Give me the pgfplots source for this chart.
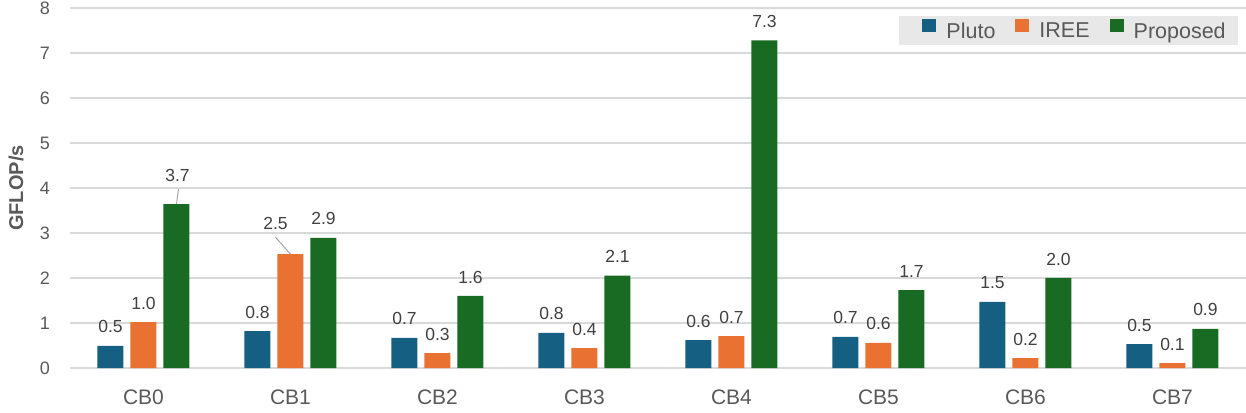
\documentclass[border=0pt]{standalone}
\usepackage{fontspec}
\setmainfont{Liberation Sans}
\usepackage{pgfplots}
\pgfplotsset{compat=1.18}

\definecolor{pluto}{HTML}{156082}
\definecolor{iree}{HTML}{E97132}
\definecolor{proposed}{HTML}{196B24}
\definecolor{gridgray}{HTML}{D9D9D9}
\definecolor{textgray}{HTML}{595959}
\definecolor{lblgray}{HTML}{404040}
\definecolor{leggray}{HTML}{E8E8E8}

\pgfplotsset{
  sqlegend/.style={legend image code/.code={\path (0pt,0pt);
    \fill[##1] (13pt,-1pt) rectangle (27pt,12pt);}},
}

\begin{document}
\begin{tikzpicture}
\path[use as bounding box] (-70pt,-44pt) rectangle (1176pt,368pt);
\begin{axis}[
  scale only axis,
  width=1176pt, height=360pt,
  ybar=7pt, bar width=26pt,
  xmin=-0.5, xmax=7.5,
  ymin=0, ymax=8,
  xtick={0,1,2,3,4,5,6,7},
  xticklabels={CB0,CB1,CB2,CB3,CB4,CB5,CB6,CB7},
  ytick={0,1,2,3,4,5,6,7,8},
  ymajorgrids,
  grid style={line width=1.3pt, gridgray},
  axis line style={draw=none},
  major tick length=0pt,
  /pgf/number format/assume math mode=true,
  yticklabel style={anchor=east, inner sep=0pt, xshift=-20pt, text=textgray,
    font=\fontsize{18}{22}\selectfont},
  xticklabel style={anchor=center, inner sep=0pt, yshift=-29pt, text=textgray,
    font=\fontsize{21}{25}\selectfont},
  every axis y label/.style={at={(axis description cs:0,0.5)}, rotate=90,
    anchor=center, yshift=54pt, text=textgray,
    font=\fontsize{20}{24}\selectfont\bfseries},
  ylabel={GFLOP/s},
  point meta=explicit symbolic,
  nodes near coords,
  every node near coord/.append style={anchor=center, yshift=19pt, inner sep=0pt,
    text=lblgray, font=\fontsize{17.5}{21}\selectfont},
  legend columns=3,
  legend style={at={(0.9932,0.9778)}, anchor=north east, fill=leggray, draw=none,
    font=\fontsize{21.5}{25}\selectfont, text=textgray,
    inner xsep=10pt, inner ysep=3pt,
    /tikz/every odd column/.append style={column sep=8pt},
    /tikz/every even column/.append style={column sep=5pt}},
]
\addplot[fill=pluto, draw=none, sqlegend] coordinates {
  (0,0.49) [0.5] (1,0.82) [0.8] (2,0.67) [0.7] (3,0.78) [0.8]
  (4,0.62) [0.6] (5,0.69) [0.7] (6,1.47) [1.5] (7,0.53) [0.5]
};
\addplot[fill=iree, draw=none, sqlegend] coordinates {
  (0,1.02) [1.0] (1,2.53) [] (2,0.33) [0.3] (3,0.44) [0.4]
  (4,0.71) [0.7] (5,0.56) [0.6] (6,0.22) [0.2] (7,0.11) [0.1]
};
\addplot[fill=proposed, draw=none, sqlegend] coordinates {
  (0,3.64) [] (1,2.89) [2.9] (2,1.60) [1.6] (3,2.05) [2.1]
  (4,7.28) [7.3] (5,1.73) [1.7] (6,2.00) [2.0] (7,0.87) [0.9]
};
\legend{Pluto,IREE,Proposed}
% labels moved off their bars, with leader lines
\node[text=lblgray, font=\fontsize{17.5}{21}\selectfont, inner sep=0pt]
  at ([xshift=34pt,yshift=29pt]axis cs:0,3.64) {3.7};
\draw[line width=1pt, gray!70] ([xshift=35pt,yshift=15pt]axis cs:0,3.64) -- ([xshift=33pt]axis cs:0,3.64);
\node[text=lblgray, font=\fontsize{17.5}{21}\selectfont, inner sep=0pt]
  at ([xshift=-15pt,yshift=31pt]axis cs:1,2.53) {2.5};
\draw[line width=1pt, gray!70] ([xshift=-15pt,yshift=17pt]axis cs:1,2.53) -- (axis cs:1,2.53);
\end{axis}
\end{tikzpicture}
\end{document}
